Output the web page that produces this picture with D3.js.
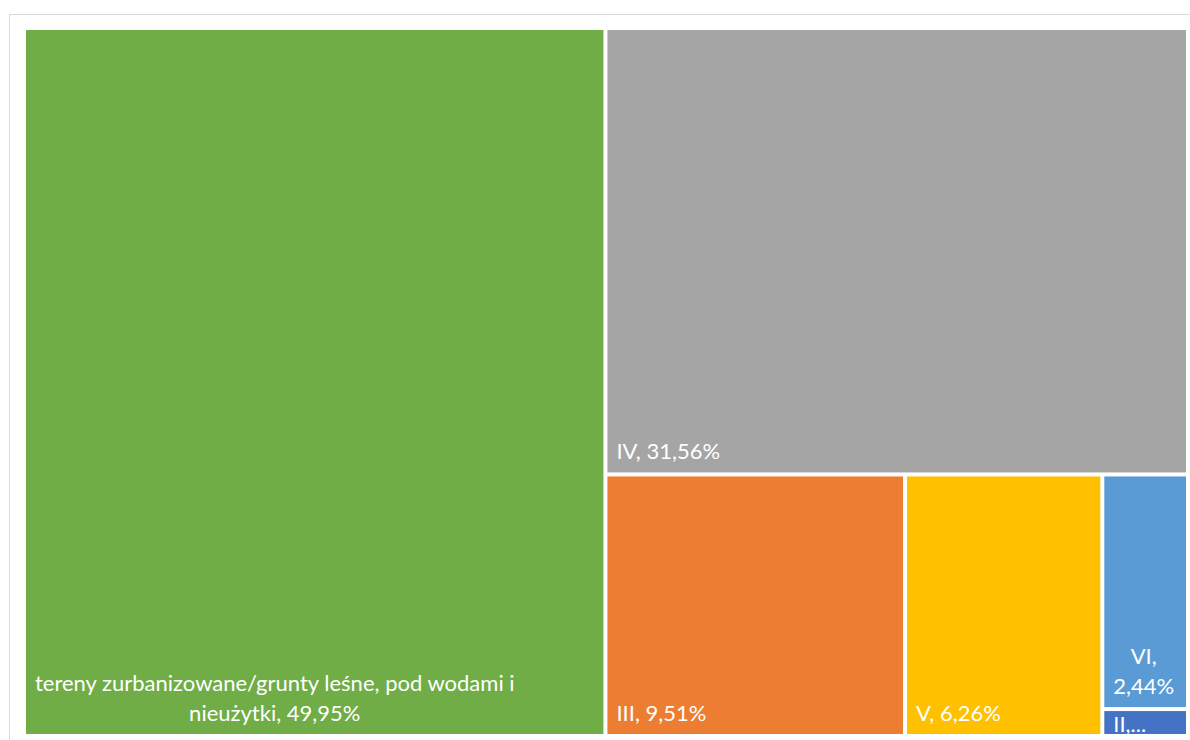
<!DOCTYPE html>
<html>
<head>
<meta charset="utf-8">
<script src="https://cdn.jsdelivr.net/npm/d3@7/dist/d3.min.js"></script>
<style>
  html, body { margin: 0; padding: 0; background: #fff; }
  svg { display: block; }
</style>
</head>
<body>
<svg id="chart" width="1190" height="740"></svg>
<script>
// Land classes and their share of the area (%)
const categories = [
  "tereny zurbanizowane/grunty leśne, pod wodami i nieużytki",
  "IV", "III", "V", "VI", "II"
];
const shares = [49.95, 31.56, 9.51, 6.26, 2.44, 0.28];
const colors = ["#70AD47", "#A5A5A5", "#ED7D31", "#FFC000", "#5B9BD5", "#4472C4"];

const svg = d3.select("#chart");

// light chart-area frame
svg.append("rect")
  .attr("x", 9.5).attr("y", 14.5)
  .attr("width", 1200).attr("height", 760)
  .attr("fill", "#fff")
  .attr("stroke", "#d9d9d9")
  .attr("stroke-width", 1);

const data = {
  name: "root",
  children: categories.map((c, i) => ({ name: c, value: shares[i], color: colors[i] }))
};

const root = d3.hierarchy(data).sum(d => d.value || 0);

d3.treemap()
  .tile(d3.treemapBinary)
  .size([1164, 708])
  .paddingOuter(2)
  .paddingInner(4)(root);

const fmt = v => d3.format(".2f")(v).replace(".", ",");

const plot = svg.append("g").attr("transform", "translate(24,28)");

const cells = plot.selectAll("g")
  .data(root.leaves())
  .join("g");

cells.append("rect")
  .attr("x", d => d.x0)
  .attr("y", d => d.y0)
  .attr("width", d => d.x1 - d.x0)
  .attr("height", d => d.y1 - d.y0)
  .attr("fill", d => d.data.color);

const fontFamily = "Lato, 'Open Sans', sans-serif";
const fontSize = 22;
const lineH = 30;
const pad = 9;

// measuring helper
const measure = svg.append("text")
  .attr("font-family", fontFamily)
  .attr("font-size", fontSize)
  .attr("visibility", "hidden");
const tw = s => { measure.text(s); return measure.node().getComputedTextLength(); };

cells.each(function(d) {
  const g = d3.select(this);
  const label = `${d.data.name}, ${fmt(d.data.value)}%`;
  const maxW = d.x1 - d.x0 - 2 * pad;
  const h = d.y1 - d.y0;
  const words = label.split(" ");
  let lines = [];
  let cur = "";
  words.forEach(w => {
    const test = cur ? cur + " " + w : w;
    if (cur && tw(test) > maxW) { lines.push(cur); cur = w; }
    else cur = test;
  });
  if (cur) lines.push(cur);

  // fit lines into the available height
  const maxLines = Math.max(1, Math.floor((h - 6) / lineH));
  if (lines.length > maxLines) {
    lines = lines.slice(0, maxLines);
    lines[maxLines - 1] = lines[maxLines - 1] + "...";
  }

  const blockW = d3.max(lines, tw);
  const cx = d.x0 + pad + blockW / 2;
  const bottom = d.y1 - Math.min(13, Math.max(2, (h - 20) / 2));

  g.append("text")
    .attr("font-family", fontFamily)
    .attr("font-size", fontSize)
    .attr("fill", "#fff")
    .attr("text-anchor", "middle")
    .selectAll("tspan")
    .data(lines)
    .join("tspan")
    .attr("x", cx)
    .attr("y", (l, i) => bottom - (lines.length - 1 - i) * lineH)
    .text(l => l);
});

measure.remove();
</script>
</body>
</html>
